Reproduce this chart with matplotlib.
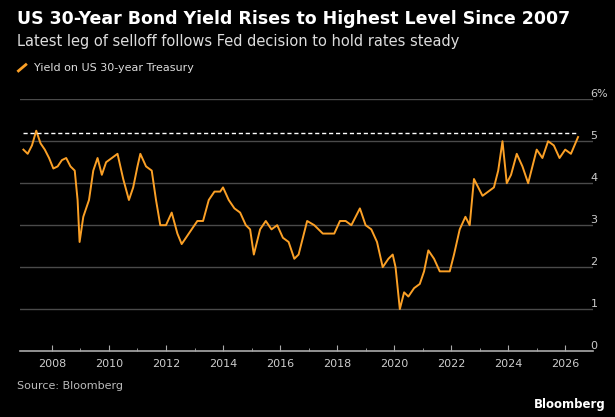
import matplotlib
matplotlib.use("Agg")
import matplotlib.pyplot as plt

years = [2007.0,2007.15,2007.3,2007.45,2007.6,2007.75,2007.9,2008.05,2008.2,2008.35,2008.5,2008.65,2008.8,2008.9,2008.97,2009.1,2009.3,2009.45,2009.6,2009.75,2009.9,2010.1,2010.3,2010.5,2010.7,2010.85,2011.0,2011.1,2011.3,2011.5,2011.65,2011.8,2012.0,2012.2,2012.4,2012.55,2012.7,2012.9,2013.1,2013.3,2013.5,2013.7,2013.9,2014.0,2014.2,2014.4,2014.6,2014.8,2014.95,2015.08,2015.3,2015.5,2015.7,2015.9,2016.1,2016.3,2016.5,2016.65,2016.8,2016.95,2017.2,2017.5,2017.7,2017.9,2018.1,2018.3,2018.5,2018.8,2019.0,2019.2,2019.4,2019.6,2019.8,2019.95,2020.05,2020.2,2020.35,2020.5,2020.7,2020.9,2021.05,2021.2,2021.4,2021.6,2021.8,2021.95,2022.1,2022.3,2022.5,2022.65,2022.8,2022.95,2023.1,2023.3,2023.5,2023.65,2023.8,2023.95,2024.1,2024.3,2024.5,2024.7,2024.85,2025.0,2025.2,2025.4,2025.6,2025.8,2026.0,2026.2,2026.45]
yields = [4.8,4.7,4.9,5.25,4.95,4.8,4.6,4.35,4.4,4.55,4.6,4.4,4.3,3.6,2.6,3.2,3.6,4.3,4.6,4.2,4.5,4.6,4.7,4.1,3.6,3.9,4.4,4.7,4.4,4.3,3.6,3.0,3.0,3.3,2.8,2.55,2.7,2.9,3.1,3.1,3.6,3.8,3.8,3.9,3.6,3.4,3.3,3.0,2.9,2.3,2.9,3.1,2.9,3.0,2.7,2.6,2.2,2.3,2.7,3.1,3.0,2.8,2.8,2.8,3.1,3.1,3.0,3.4,3.0,2.9,2.6,2.0,2.2,2.3,2.0,1.0,1.4,1.3,1.5,1.6,1.9,2.4,2.2,1.9,1.9,1.9,2.3,2.9,3.2,3.0,4.1,3.9,3.7,3.8,3.9,4.3,5.0,4.0,4.2,4.7,4.4,4.0,4.4,4.8,4.6,5.0,4.9,4.6,4.8,4.7,5.1]
threshold = 5.2
xticks = [2008,2010,2012,2014,2016,2018,2020,2022,2024,2026]
minor_xticks = [2009,2011,2013,2015,2017,2019,2021,2023,2025]
yticks = [0,1,2,3,4,5,6]
ylabels = ["0","1","2","3","4","5","6%"]

orange = "#fba026"
fig = plt.figure(figsize=(6.15,4.17), dpi=100, facecolor="black")
ax = fig.add_axes([0.0325,0.158,0.932,0.604], facecolor="black")
for y in yticks[1:]:
    ax.axhline(y, color="#4a4a4a", lw=1.0, zorder=0)
ax.plot(years, yields, color=orange, lw=1.4)
ax.plot([years[0], years[-1]], [threshold, threshold], color="white", ls=(0,(3,2)), lw=1.0)
ax.set_xlim(2006.88, 2026.98)
ax.set_ylim(0, 6.0)
ax.yaxis.tick_right()
ax.set_yticks(yticks)
ax.set_yticklabels(ylabels, color="#cccccc", fontsize=8)
ax.set_xticks(xticks)
ax.set_xticks(minor_xticks, minor=True)
ax.set_xticklabels([str(x) for x in xticks], color="#cccccc", fontsize=8)
ax.tick_params(axis="y", length=0, pad=-2)
ax.tick_params(axis="x", which="major", length=4, direction="in", color="#aaaaaa", pad=6)
ax.tick_params(axis="x", which="minor", length=2, direction="in", color="#aaaaaa")
for lab in ax.get_yticklabels():
    lab.set_verticalalignment("bottom")
for s in ["top","left","right"]:
    ax.spines[s].set_visible(False)
ax.spines["bottom"].set_color("#aaaaaa")
ax.spines["bottom"].set_linewidth(1.2)

fig.text(0.028,0.955,"US 30-Year Bond Yield Rises to Highest Level Since 2007",color="white",fontsize=12.5,fontweight="bold",va="center")
fig.text(0.028,0.9,"Latest leg of selloff follows Fed decision to hold rates steady",color="#dddddd",fontsize=10.5,va="center")
fig.lines.append(plt.Line2D([0.03,0.042],[0.83,0.845],color=orange,lw=2,transform=fig.transFigure))
fig.text(0.055,0.838,"Yield on US 30-year Treasury",color="#dddddd",fontsize=8,va="center")
fig.text(0.028,0.075,"Source: Bloomberg",color="#bbbbbb",fontsize=8,va="center")
fig.text(0.985,0.03,"Bloomberg",color="white",fontsize=8.5,fontweight="bold",ha="right",va="center")
fig.savefig("out.png", dpi=100, facecolor="black")
